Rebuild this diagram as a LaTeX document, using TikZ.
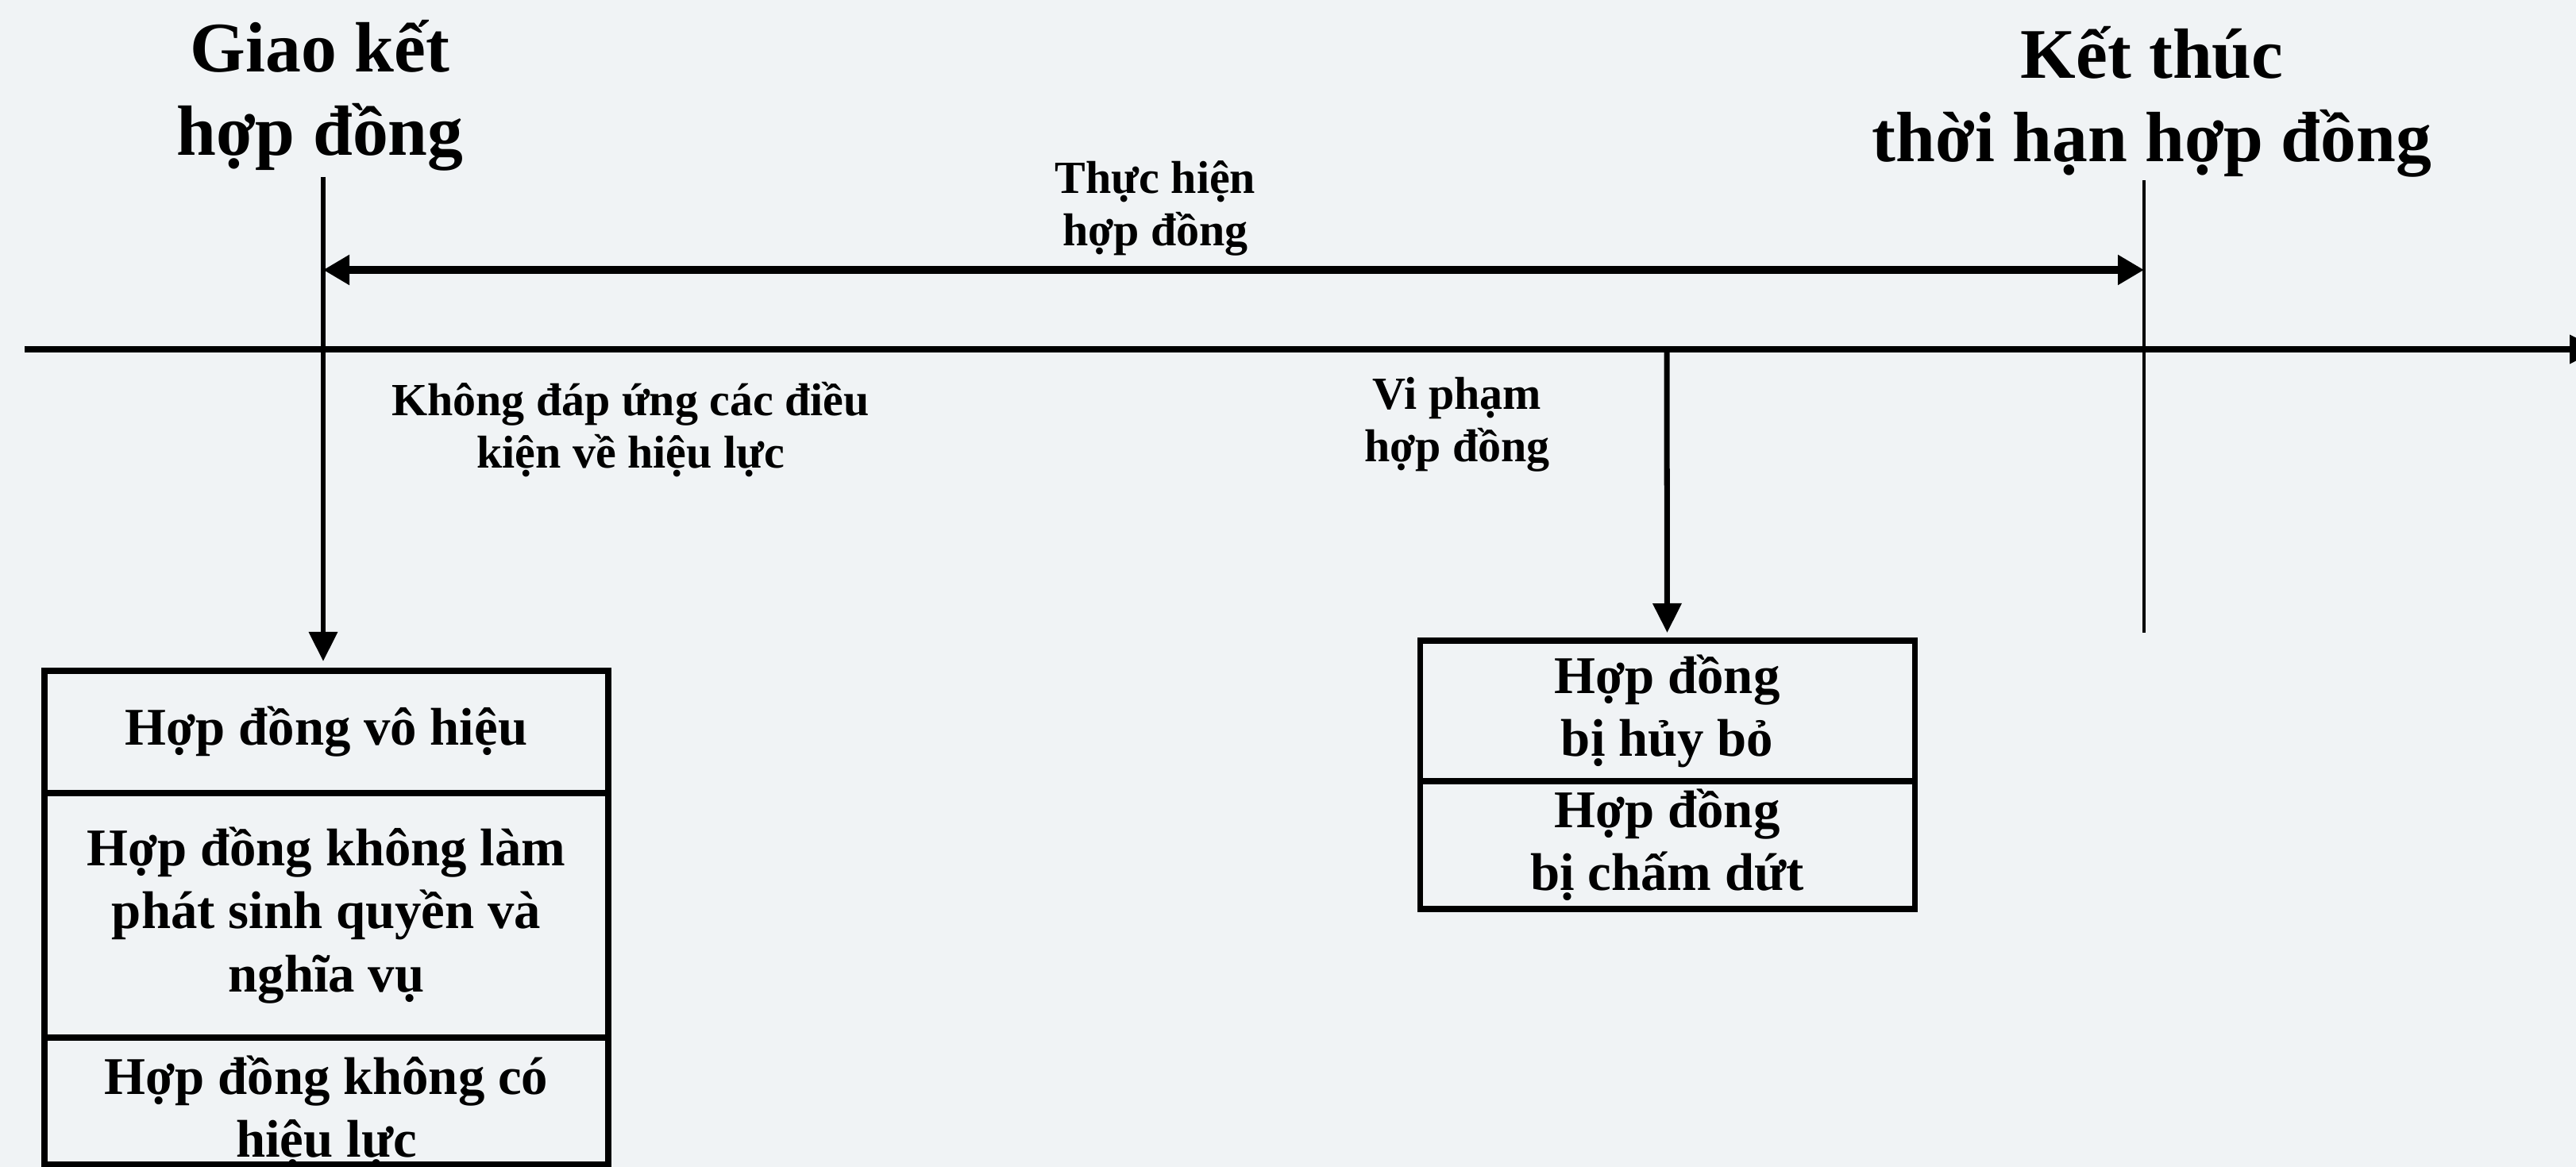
\documentclass[tikz,border=0pt]{standalone}
\usepackage{fontspec}
\setmainfont{Liberation Serif}
\usetikzlibrary{arrows.meta,positioning}
\definecolor{bgGrey}{RGB}{240,243,245}

\tikzset{
  heading/.style={font=\fontsize{25.5}{30}\selectfont\bfseries, align=center, inner sep=0pt, anchor=base},
  note/.style={font=\fontsize{16.5}{19}\selectfont\bfseries, align=center, inner sep=0pt, anchor=base},
  row/.style={draw, line width=2pt, minimum width=7.1cm, inner sep=0pt, outer sep=0pt, align=center, font=\fontsize{19}{22.5}\selectfont\bfseries},
  downArrow/.style={-{Triangle[length=3.7mm,width=3.5mm]}},
}

\begin{document}
\begin{tikzpicture}
  \useasboundingbox (0,0) rectangle (32.44,-14.70);
  \fill[bgGrey] (0,0) rectangle (32.44,-14.70);
  \clip (0,0) rectangle (32.44,-14.70);

  % time axis
  \coordinate (axisL) at (0.31,-4.40);
  \coordinate (axisR) at (32.73,-4.40);
  \draw[line width=2pt, downArrow] (axisL) -- (axisR);

  % milestones (base = last line)
  \node[heading] (giaoKet) at (4.03,-1.96) {Giao kết\\hợp đồng};
  \node[heading] (ketThuc) at (27.10,-2.04) {Kết thúc\\thời hạn hợp đồng};
  \coordinate (startPt) at (4.07,-2.23);
  \coordinate (endPt) at (27.00,-2.27);
  \coordinate (endLow) at (27.00,-7.97);
  \coordinate (spanL) at (4.07,-3.40);
  \coordinate (spanR) at (27.00,-3.40);
  \coordinate (breach) at (20.99,-4.40);

  \node[note] (thucHien) at (14.55,-3.10) {Thực hiện\\hợp đồng};
  \node[note] (khongDapUng) at (7.94,-5.90) {Không đáp ứng các điều\\kiện về hiệu lực};
  \node[note] (viPham) at (18.35,-5.82) {Vi phạm\\hợp đồng};

  % result boxes
  \node[row, minimum height=1.54cm, anchor=north west] (voHieu) at (0.56,-8.45) {Hợp đồng vô hiệu};
  \node[row, minimum height=3.08cm, below=0pt of voHieu] (khongPhatSinh) {Hợp đồng không làm\\phát sinh quyền và\\nghĩa vụ};
  \node[row, minimum height=1.60cm, text height=42pt, text depth=2pt, below=0pt of khongPhatSinh] (khongHieuLuc) {Hợp đồng không có\\hiệu lực};

  \node[row, minimum width=6.23cm, minimum height=1.77cm, anchor=north west] (huyBo) at (17.88,-8.07) {Hợp đồng\\bị hủy bỏ};
  \node[row, minimum width=6.23cm, minimum height=1.61cm, below=0pt of huyBo] (chamDut) {Hợp đồng\\bị chấm dứt};

  \draw[line width=2.85pt, {Triangle[length=3.3mm,width=3.6mm]}-{Triangle[length=3.3mm,width=3.6mm]}] (spanL) -- (spanR);
  \draw[line width=1.9pt, downArrow] (startPt) -- ([yshift=1.2mm]startPt |- voHieu.north);
  \draw[line width=2pt, downArrow] (breach) -- ([yshift=1mm]huyBo.north);
  \draw[line width=1.1pt] (endPt) -- (endLow);
\end{tikzpicture}
\end{document}
